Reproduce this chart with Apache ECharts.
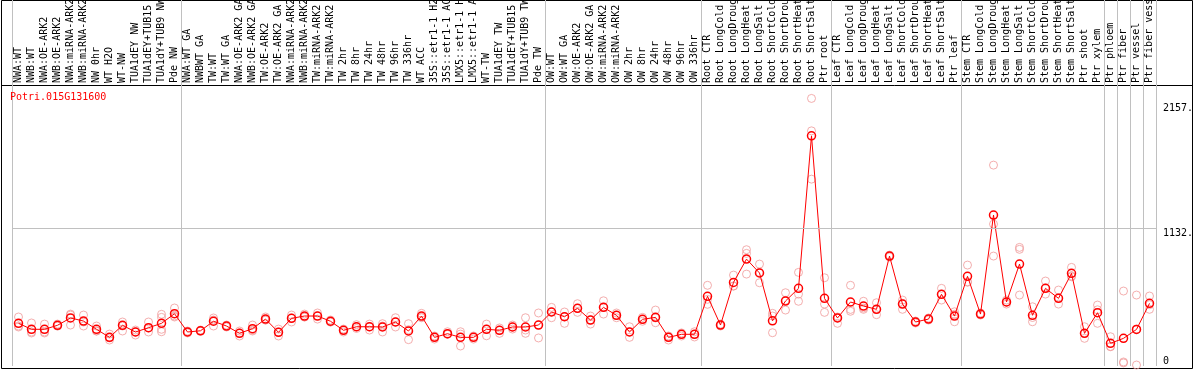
<!DOCTYPE html>
<html>
<head>
<meta charset="utf-8">
<script src="https://cdn.jsdelivr.net/npm/echarts@6.0.0/dist/echarts.min.js"></script>
<style>
  html, body { margin: 0; padding: 0; background: #fff; }
  #chart { width: 1194px; height: 370px; }
</style>
</head>
<body>
<div id="chart"></div>
<script>
// sample names, in plot order
const categories = [
  'NWA:WT', 'NWB:WT', 'NWA:OE-ARK2', 'NWB:OE-ARK2', 'NWA:miRNA-ARK2', 'NWB:miRNA-ARK2',
  'NW 0hr', 'WT H2O', 'WT-NW', 'TUA1dEY NW', 'TUA1dEY+TUB15', 'TUA1dY+TUB9 NW', 'Pde NW',
  'NWA:WT GA', 'NWBWT GA', 'TW:WT', 'TW:WT GA', 'NWA:OE-ARK2 GA', 'NWB:OE-ARK2 GA',
  'TW:OE-ARK2', 'TW:OE-ARK2 GA', 'NWA:miRNA-ARK2', 'NWB:miRNA-ARK2', 'TW:miRNA-ARK2', 'TW:miRNA-ARK2',
  'TW 2hr', 'TW 8hr', 'TW 24hr', 'TW 48hr', 'TW 96hr', 'TW 336hr', 'WT ACC',
  '35S::etr1-1 H2O', '35S::etr1-1 ACC', 'LMX5::etr1-1 H2O', 'LMX5::etr1-1 ACC',
  'WT-TW', 'TUA1dEY TW', 'TUA1dEY+TUB15', 'TUA1dY+TUB9 TW', 'Pde TW',
  'OW:WT', 'OW:WT GA', 'OW:OE-ARK2', 'OW:OE-ARK2 GA', 'OW:miRNA-ARK2', 'OW:miRNA-ARK2',
  'OW 2hr', 'OW 8hr', 'OW 24hr', 'OW 48hr', 'OW 96hr', 'OW 336hr',
  'Root CTR', 'Root LongCold', 'Root LongDrought', 'Root LongHeat', 'Root LongSalt',
  'Root ShortCold', 'Root ShortDrought', 'Root ShortHeat', 'Root ShortSalt', 'Ptr root',
  'Leaf CTR', 'Leaf LongCold', 'Leaf LongDrought', 'Leaf LongHeat', 'Leaf LongSalt',
  'Leaf ShortCold', 'Leaf ShortDrought', 'Leaf ShortHeat', 'Leaf ShortSalt', 'Ptr leaf',
  'Stem CTR', 'Stem LongCold', 'Stem LongDrought', 'Stem LongHeat', 'Stem LongSalt',
  'Stem ShortCold', 'Stem ShortDrought', 'Stem ShortHeat', 'Stem ShortSalt', 'Ptr shoot', 'Ptr xylem',
  'Ptr phloem', 'Ptr fiber', 'Ptr vessel', 'Ptr fiber vessel'
];

// index of the first sample in each experiment block
const groupStarts = [0, 13, 41, 53, 63, 73, 84, 85, 86, 87];

// mean expression per sample
const means = [
  350, 301, 301, 334, 394, 369, 301, 235, 334, 279, 314, 350, 429,
  279, 289, 367, 328, 268, 306, 385, 276, 391, 410, 410, 367, 293, 322, 322,
  320, 361, 287, 410, 235, 265, 235, 235, 301, 293, 320, 320, 336,
  443, 404, 473, 377, 481, 416, 279, 383, 399, 235, 260, 260,
  572, 336, 686, 877, 763, 371, 533, 637, 1888, 555,
  394, 525, 492, 465, 902, 508, 361, 385, 588, 410,
  736, 426, 1238, 525, 836, 416, 637, 555, 760, 268, 437,
  186, 227, 300, 514
];

// individual replicates per sample
const reps = [
  [402, 328, 320], [353, 279, 271], [344, 279, 271], [344, 328, 328], [426, 418, 336],
  [418, 361, 328], [328, 287, 287], [262, 230, 213], [361, 328, 287], [295, 279, 254],
  [361, 312, 279], [424, 399, 301, 281], [476, 410, 402],
  [287, 279, 271], [295, 287, 287], [394, 328, 377], [336, 328, 320], [287, 271, 246],
  [336, 295, 287], [402, 377, 377], [303, 279, 246], [418, 394, 361], [426, 402, 402],
  [435, 410, 385], [377, 361, 361], [303, 295, 279], [339, 320, 308], [344, 320, 295],
  [347, 328, 279], [396, 361, 320], [347, 298, 216], [432, 402, 396], [246, 238, 221],
  [281, 262, 260], [281, 262, 164], [246, 238, 221], [344, 303, 248], [312, 295, 268],
  [336, 320, 303], [396, 295, 268], [435, 336, 230],
  [481, 443, 396], [443, 404, 350], [511, 473, 440], [410, 377, 344], [535, 481, 426],
  [435, 416, 396], [322, 279, 235], [399, 383, 367], [459, 394, 355], [246, 235, 213],
  [271, 260, 246], [281, 260, 238],
  [662, 547, 506], [344, 336, 328], [746, 656, 656], [954, 924, 754], [836, 768, 683],
  [432, 410, 273], [601, 539, 459], [768, 590, 531], [2195, 1929, 1533], [724, 508, 440],
  [402, 394, 350], [662, 464, 449], [531, 476, 465], [519, 465, 421], [910, 902, 894],
  [541, 514, 465], [369, 361, 353], [394, 385, 377], [637, 588, 541], [445, 424, 363],
  [828, 691, 687], [435, 426, 418], [1648, 1164, 902], [541, 525, 508], [973, 957, 582],
  [486, 398, 363], [697, 640, 590], [623, 558, 508], [809, 738, 732], [322, 268, 227],
  [500, 461, 350],
  [240, 160, 158], [615, 33, 25], [582, 303, 8], [574, 503, 465]
];

// right-hand axis marks
const yTicks = [0, 1132, 2157];
const yTickLabels = ['0', '1132.', '2157.'];
const yMax = 2297;

const repPoints = [];
reps.forEach((list, i) => list.forEach(v => repPoints.push([i, v])));

const mono = '"DejaVu Sans Mono", "Liberation Mono", monospace';
const isGroupEdge = (index) => groupStarts.includes(index);

const chart = echarts.init(document.getElementById('chart'));

chart.setOption({
  backgroundColor: '#fff',
  animation: false,
  title: {
    text: 'Potri.015G131600',
    left: 10,
    top: 92,
    padding: 0,
    textStyle: { color: '#ff0000', fontSize: 10, fontWeight: 'normal', fontFamily: mono }
  },
  grid: [
    { left: 12, right: 38, top: 86, bottom: 4, outerBoundsMode: 'none', containLabel: false },
    { left: 12, right: 38, top: 0, height: 86, outerBoundsMode: 'none', containLabel: false }
  ],
  xAxis: [
    {
      type: 'category',
      gridIndex: 0,
      data: categories,
      position: 'top',
      boundaryGap: true,
      axisLine: { show: false },
      axisTick: { show: false },
      axisLabel: {
        rotate: 90,
        interval: 0,
        margin: 3,
        color: '#000',
        fontSize: 10,
        fontFamily: mono
      },
      splitLine: {
        show: true,
        interval: isGroupEdge,
        lineStyle: { color: '#c0c0c0', width: 1 }
      }
    },
    {
      type: 'category',
      gridIndex: 1,
      data: categories,
      boundaryGap: true,
      axisLine: { show: false },
      axisTick: { show: false },
      axisLabel: { show: false },
      splitLine: {
        show: true,
        interval: isGroupEdge,
        lineStyle: { color: '#c0c0c0', width: 1 }
      }
    }
  ],
  yAxis: [
    {
      type: 'value',
      gridIndex: 0,
      min: 0,
      max: yMax,
      position: 'right',
      axisLine: { show: false },
      axisTick: { show: false },
      splitLine: { show: false },
      axisLabel: {
        customValues: yTicks,
        margin: 7,
        color: '#000',
        fontSize: 10,
        fontFamily: mono,
        verticalAlign: 'top',
        verticalAlignMinLabel: 'bottom',
        formatter: (v) => yTickLabels[yTicks.indexOf(v)]
      }
    },
    { type: 'value', gridIndex: 1, show: false }
  ],
  series: [
    {
      name: 'replicates',
      type: 'scatter',
      xAxisIndex: 0,
      yAxisIndex: 0,
      data: repPoints,
      symbol: 'circle',
      symbolSize: 8,
      itemStyle: { color: 'transparent', borderColor: '#f09a9a', borderWidth: 1 },
      z: 2
    },
    {
      name: 'mean',
      type: 'line',
      xAxisIndex: 0,
      yAxisIndex: 0,
      data: means,
      symbol: 'circle',
      symbolSize: 8,
      showAllSymbol: true,
      lineStyle: { color: '#ff0000', width: 1 },
      itemStyle: { color: 'transparent', borderColor: '#ff0000', borderWidth: 1.5 },
      markLine: {
        silent: true,
        symbol: 'none',
        label: { show: false },
        lineStyle: { color: '#c0c0c0', type: 'solid', width: 1 },
        data: [{ yAxis: yTicks[1] }]
      },
      z: 3
    }
  ],
  graphic: [
    {
      type: 'rect',
      shape: { x: 1.5, y: 0.5, width: 1191, height: 368 },
      style: { fill: 'none', stroke: '#000', lineWidth: 1 },
      silent: true
    },
    {
      type: 'line',
      shape: { x1: 1.5, y1: 85.5, x2: 1192.5, y2: 85.5 },
      style: { stroke: '#000', lineWidth: 1 },
      silent: true
    }
  ]
});
</script>
</body>
</html>
